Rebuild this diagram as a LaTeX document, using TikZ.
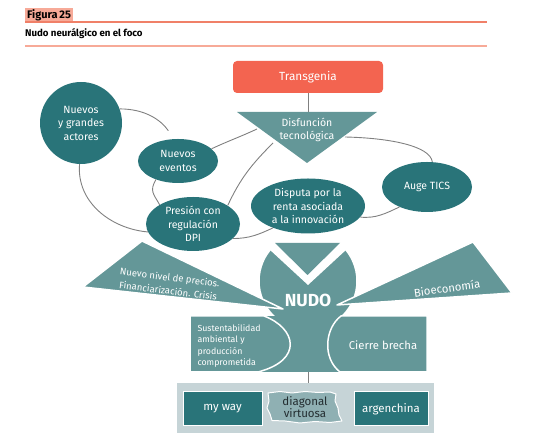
\documentclass[tikz,border=0pt]{standalone}
\usepackage{fontspec}
\setmainfont{Fira Sans}
\usetikzlibrary{calc,shapes.geometric}

\definecolor{tealdark}{RGB}{41,116,121}
\definecolor{teallight}{RGB}{100,151,152}
\definecolor{coral}{RGB}{243,100,80}
\definecolor{salmon}{RGB}{240,128,104}
\definecolor{salmonlight}{RGB}{247,170,152}
\definecolor{bandgray}{RGB}{198,212,215}
\definecolor{diagfill}{RGB}{143,176,179}
\definecolor{linkgray}{RGB}{128,128,128}
\definecolor{inkdark}{RGB}{35,45,48}

\tikzset{
  bubble/.style={ellipse, fill=tealdark, text=white, align=center, inner sep=0pt,
    font=\fontsize{10.5}{13.5}\selectfont},
  link/.style={draw=linkgray, line width=0.9pt},
  wedge/.style={fill=teallight, draw=white, line width=1.5pt, line join=round},
  tag/.style={rectangle, fill=tealdark, draw=white, line width=1pt, text=white,
    inner sep=0pt, font=\fontsize{11.5}{13}\selectfont},
}

\begin{document}
\begin{tikzpicture}[x=1pt, y=1pt]
  \useasboundingbox (0,0) rectangle (557,446);

  % cabecera
  \node[fill=salmonlight, anchor=south west, inner xsep=2pt, inner ysep=0pt, minimum height=14pt,
    font=\bfseries\fontsize{11}{12}\selectfont] (fig) at (25,424) {Figura\,25};
  \draw[salmon, line width=1.2pt] (25,424) -- (487,424);
  \node[anchor=west, inner sep=0pt, font=\bfseries\fontsize{9.7}{11}\selectfont] (tit) at (25,412) {Nudo neurálgico en el foco};
  \draw[salmonlight, line width=1.2pt] (25,400) -- (487,400);

  % nudo
  \node[circle, fill=teallight, draw=white, line width=1.5pt, minimum size=98pt, inner sep=0pt] (nudoc) at (308,165) {};
  \fill[white] (250,214.5) -- (366,214.5) -- (308,161) -- cycle;
  \fill[teallight] (275,203) -- (340,203) -- (307.5,171) -- cycle;
  \filldraw[wedge] (142,205) -- (83,159) -- (283,137) -- cycle;
  \filldraw[wedge] (473,204) -- (512,153) -- (337,141) -- cycle;
  \fill[teallight] (190,74) rectangle (427,130);
  \filldraw[wedge] (190,130) -- (264,130) .. controls (296,118) and (304,86) .. (258,74) -- (190,74) -- cycle;
  \filldraw[wedge] (427,130) -- (341,130) .. controls (325,118) and (322,88) .. (340,74) -- (427,74) -- cycle;

  \node[text=white, font=\bfseries\fontsize{17.5}{18}\selectfont] (nudo) at (308,145.5) {NUDO};
  \node[rotate=-7, text=white, align=center, font=\fontsize{9.5}{13.5}\selectfont] (precios) at (169,162) {Nuevo nivel de precios.\\Financiarización. Crisis};
  \node[rotate=8, text=white, font=\fontsize{11.3}{13}\selectfont] (bio) at (447,158) {Bioeconomía};
  \node[anchor=west, align=left, text=white, font=\fontsize{8.8}{11.5}\selectfont] (sust) at (194,100) {Sustentabilidad\\ambiental y\\producción\\comprometida};
  \node[text=white, font=\fontsize{11.3}{13}\selectfont] (cierre) at (383,101) {Cierre brecha};

  % parte alta
  \node[fill=coral, rounded corners=4pt, minimum width=150pt, minimum height=32pt, text=white,
    font=\fontsize{11.8}{14}\selectfont] (trans) at (308,369) {Transgenia};
  \fill[teallight] (237,334) -- (377,334) -- (307,283) -- cycle;
  \coordinate (tritop) at (308,334);
  \coordinate (tl1) at (257,317);
  \coordinate (tl2) at (273,303);
  \coordinate (tr1) at (345,309);
  \node[text=white, align=center, font=\fontsize{10.5}{13}\selectfont] (disf) at (307,316) {Disfunción\\tecnológica};
  \draw[link] (trans.south) -- (tritop);

  \node[bubble, circle, minimum size=82pt] (actores) at (81,323) {Nuevos\\y grandes\\actores};
  \node[bubble, minimum width=80pt, minimum height=44pt] (eventos) at (178,285) {Nuevos\\eventos};
  \node[bubble, minimum width=94pt, minimum height=54pt] (presion) at (193,222) {Presión con\\regulación\\DPI};
  \node[bubble, minimum width=114pt, minimum height=55pt] (disputa) at (308,240) {Disputa por la\\renta asociada\\a la innovación};
  \node[bubble, minimum width=90pt, minimum height=50pt] (auge) at (427,259) {Auge TICS};

  \draw[link, shorten >=10pt] (actores.20) to[out=0, in=125] (eventos.100);
  \draw[link] (actores.268) to[out=-95, in=175] (presion.190);
  \draw[link] (eventos.20) to[out=25, in=205] (tl1);
  \draw[link] (eventos.220) to[out=240, in=120, looseness=1.3] (presion.150);
  \draw[link] (presion.28) to[out=65, in=225] (tl2);
  \draw[link] (presion.-20) to[out=0, in=205] (disputa.212);
  \draw[link] (disputa.-12) to[out=-5, in=205] (auge.216);
  \draw[link] (tr1) .. controls +(45,-1) and +(-2,16) .. (auge.78);

  % parte baja
  \coordinate (bandbot) at (308,74);
  \node[fill=bandgray, minimum width=257pt, minimum height=50pt, inner sep=0pt] (caja) at (305.5,38) {};
  \draw[link] (bandbot) -- (caja.north -| bandbot);
  \node[tag, minimum width=79pt, minimum height=34pt] (myway) at (222.5,37) {my way};
  \node[tag, minimum width=74pt, minimum height=34pt] (argen) at (391,37) {argenchina};
  \filldraw[fill=diagfill, draw=white, line width=1pt, line join=round]
    (268,53) -- (280,54.5) -- (292,53) -- (305,54.5) -- (318,53.5) -- (330,54) -- (336,52)
    -- (335,45) -- (338,38) -- (339,31) -- (342,25) -- (330,23.5) -- (315,24.5) -- (300,23)
    -- (285,25) -- (272,25.5) -- (270,32) -- (267,38) -- (269,45) -- cycle;
  \node[text=inkdark, align=center, font=\fontsize{11.5}{11}\selectfont] (diag) at (305,39) {diagonal\\virtuosa};
\end{tikzpicture}
\end{document}
